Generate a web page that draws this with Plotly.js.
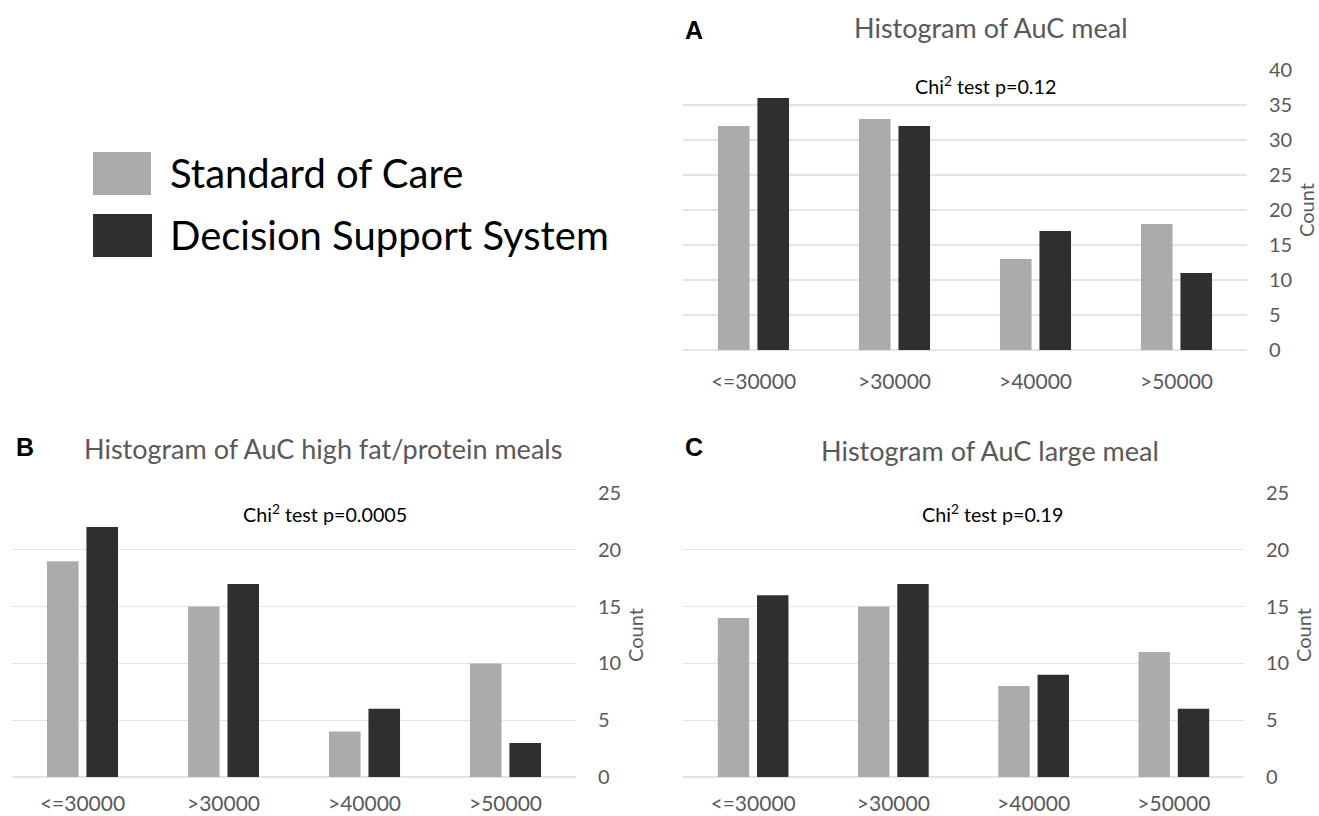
<!DOCTYPE html>
<html>
<head>
<meta charset="utf-8">
<script src="https://cdn.plot.ly/plotly-3.0.1.min.js"></script>
<style>
  html, body { margin: 0; padding: 0; background: #ffffff; }
  #chart { width: 1319px; height: 816px; }
</style>
</head>
<body>
<div id="chart"></div>
<script>
// ---- data ----
const categories = ['<=30000', '>30000', '>40000', '>50000'];
const seriesNames = ['Standard of Care', 'Decision Support System'];

const socMeal = [32, 33, 13, 18];
const dssMeal = [36, 32, 17, 11];

const socFatProtein = [19, 15, 4, 10];
const dssFatProtein = [22, 17, 6, 3];

const socLarge = [14, 15, 8, 11];
const dssLarge = [16, 17, 9, 6];

const panelLetters = ['A', 'B', 'C'];
const panelTitles = ['Histogram of AuC meal', 'Histogram of AuC high fat/protein meals', 'Histogram of AuC large meal'];
const pValues = ['0.12', '0.0005', '0.19'];
const yTicksA = [0, 5, 10, 15, 20, 25, 30, 35, 40];
const yTicksBC = [0, 5, 10, 15, 20, 25];

// ---- styling ----
const W = 1319, H = 816;
const GRAY = '#ababab';
const DARK = '#2f2f2f';
const TEXT_GRAY = '#595959';
const GRID = '#e4e4e4';
const FONT = 'Lato, "Open Sans", sans-serif';
const px = x => x / W;
const py = y => 1 - y / H;

function barTrace(y, name, color, xa, ya) {
  return {
    type: 'bar', x: categories, y: y, name: name,
    marker: { color: color, line: { width: 0 } },
    xaxis: xa, yaxis: ya, showlegend: false, hoverinfo: 'x+y+name'
  };
}

const data = [
  barTrace(socMeal, seriesNames[0], GRAY, 'x', 'y'),
  barTrace(dssMeal, seriesNames[1], DARK, 'x', 'y'),
  barTrace(socFatProtein, seriesNames[0], GRAY, 'x2', 'y2'),
  barTrace(dssFatProtein, seriesNames[1], DARK, 'x2', 'y2'),
  barTrace(socLarge, seriesNames[0], GRAY, 'x3', 'y3'),
  barTrace(dssLarge, seriesNames[1], DARK, 'x3', 'y3')
];

function xAxis(domain, anchor, ticklen) {
  return {
    domain: domain, anchor: anchor, type: 'category',
    showgrid: false, showline: false, zeroline: false,
    ticks: 'outside', ticklen: ticklen, tickcolor: 'rgba(0,0,0,0)',
    tickfont: { family: FONT, size: 21, color: TEXT_GRAY },
    fixedrange: true
  };
}
function yAxis(domain, anchor, range, tickvals) {
  return {
    domain: domain, anchor: anchor, side: 'right', range: range,
    tickvals: tickvals, showline: false,
    showgrid: true, gridcolor: GRID, gridwidth: 1.3,
    zeroline: true, zerolinecolor: GRID, zerolinewidth: 1.3,
    ticks: 'outside', ticklen: 17, tickcolor: 'rgba(0,0,0,0)',
    tickfont: { family: FONT, size: 20, color: TEXT_GRAY },
    title: { text: 'Count', font: { family: FONT, size: 20, color: TEXT_GRAY }, standoff: 8 },
    fixedrange: true
  };
}

const annotations = [];
function addText(text, x, y, size, color, family, xanchor, bold) {
  annotations.push({
    text: bold ? '<b>' + text + '</b>' : text,
    x: px(x), y: py(y), xref: 'paper', yref: 'paper',
    xanchor: xanchor, yanchor: 'middle', showarrow: false,
    font: { family: family, size: size, color: color }
  });
}
// panel letters
addText(panelLetters[0], 683, 30, 25, '#000000', '"Liberation Sans", Arial, sans-serif', 'left', true);
addText(panelLetters[1], 14, 447, 25, '#000000', '"Liberation Sans", Arial, sans-serif', 'left', true);
addText(panelLetters[2], 683, 447, 25, '#000000', '"Liberation Sans", Arial, sans-serif', 'left', true);
// panel titles
addText(panelTitles[0], 991, 28, 27, TEXT_GRAY, FONT, 'center');
addText(panelTitles[1], 323, 448, 27, TEXT_GRAY, FONT, 'center');
addText(panelTitles[2], 990, 450, 27, TEXT_GRAY, FONT, 'center');
// chi-square notes
addText('Chi<sup>2</sup> test p=' + pValues[0], 985, 85, 19.7, '#000000', FONT, 'center');
addText('Chi<sup>2</sup> test p=' + pValues[1], 325, 513, 19.7, '#000000', FONT, 'center');
addText('Chi<sup>2</sup> test p=' + pValues[2], 992, 513, 19.7, '#000000', FONT, 'center');
// legend labels
addText(seriesNames[0], 168, 173, 40, '#000000', FONT, 'left');
addText(seriesNames[1], 168, 235, 40, '#000000', FONT, 'left');

const shapes = [
  { type: 'rect', xref: 'paper', yref: 'paper', x0: px(93), x1: px(151), y0: py(195), y1: py(152),
    fillcolor: GRAY, line: { width: 0 } },
  { type: 'rect', xref: 'paper', yref: 'paper', x0: px(93), x1: px(152), y0: py(257), y1: py(214),
    fillcolor: DARK, line: { width: 0 } }
];

const layout = {
  width: W, height: H,
  margin: { l: 0, r: 0, t: 0, b: 0 },
  paper_bgcolor: '#ffffff', plot_bgcolor: '#ffffff',
  barmode: 'group', bargap: 0.44, bargroupgap: 0.2,
  showlegend: false,
  font: { family: FONT, color: TEXT_GRAY },
  xaxis: xAxis([px(683), px(1247)], 'y', 13),
  yaxis: yAxis([py(350), py(70)], 'x', [0, 40], yTicksA),
  xaxis2: xAxis([px(12), px(576)], 'y2', 8),
  yaxis2: yAxis([py(777), py(493)], 'x2', [0, 25], yTicksBC),
  xaxis3: xAxis([px(683), px(1244)], 'y3', 8),
  yaxis3: yAxis([py(777), py(493)], 'x3', [0, 25], yTicksBC),
  annotations: annotations,
  shapes: shapes
};

Plotly.newPlot('chart', data, layout, { displayModeBar: false, staticPlot: true });
</script>
</body>
</html>
